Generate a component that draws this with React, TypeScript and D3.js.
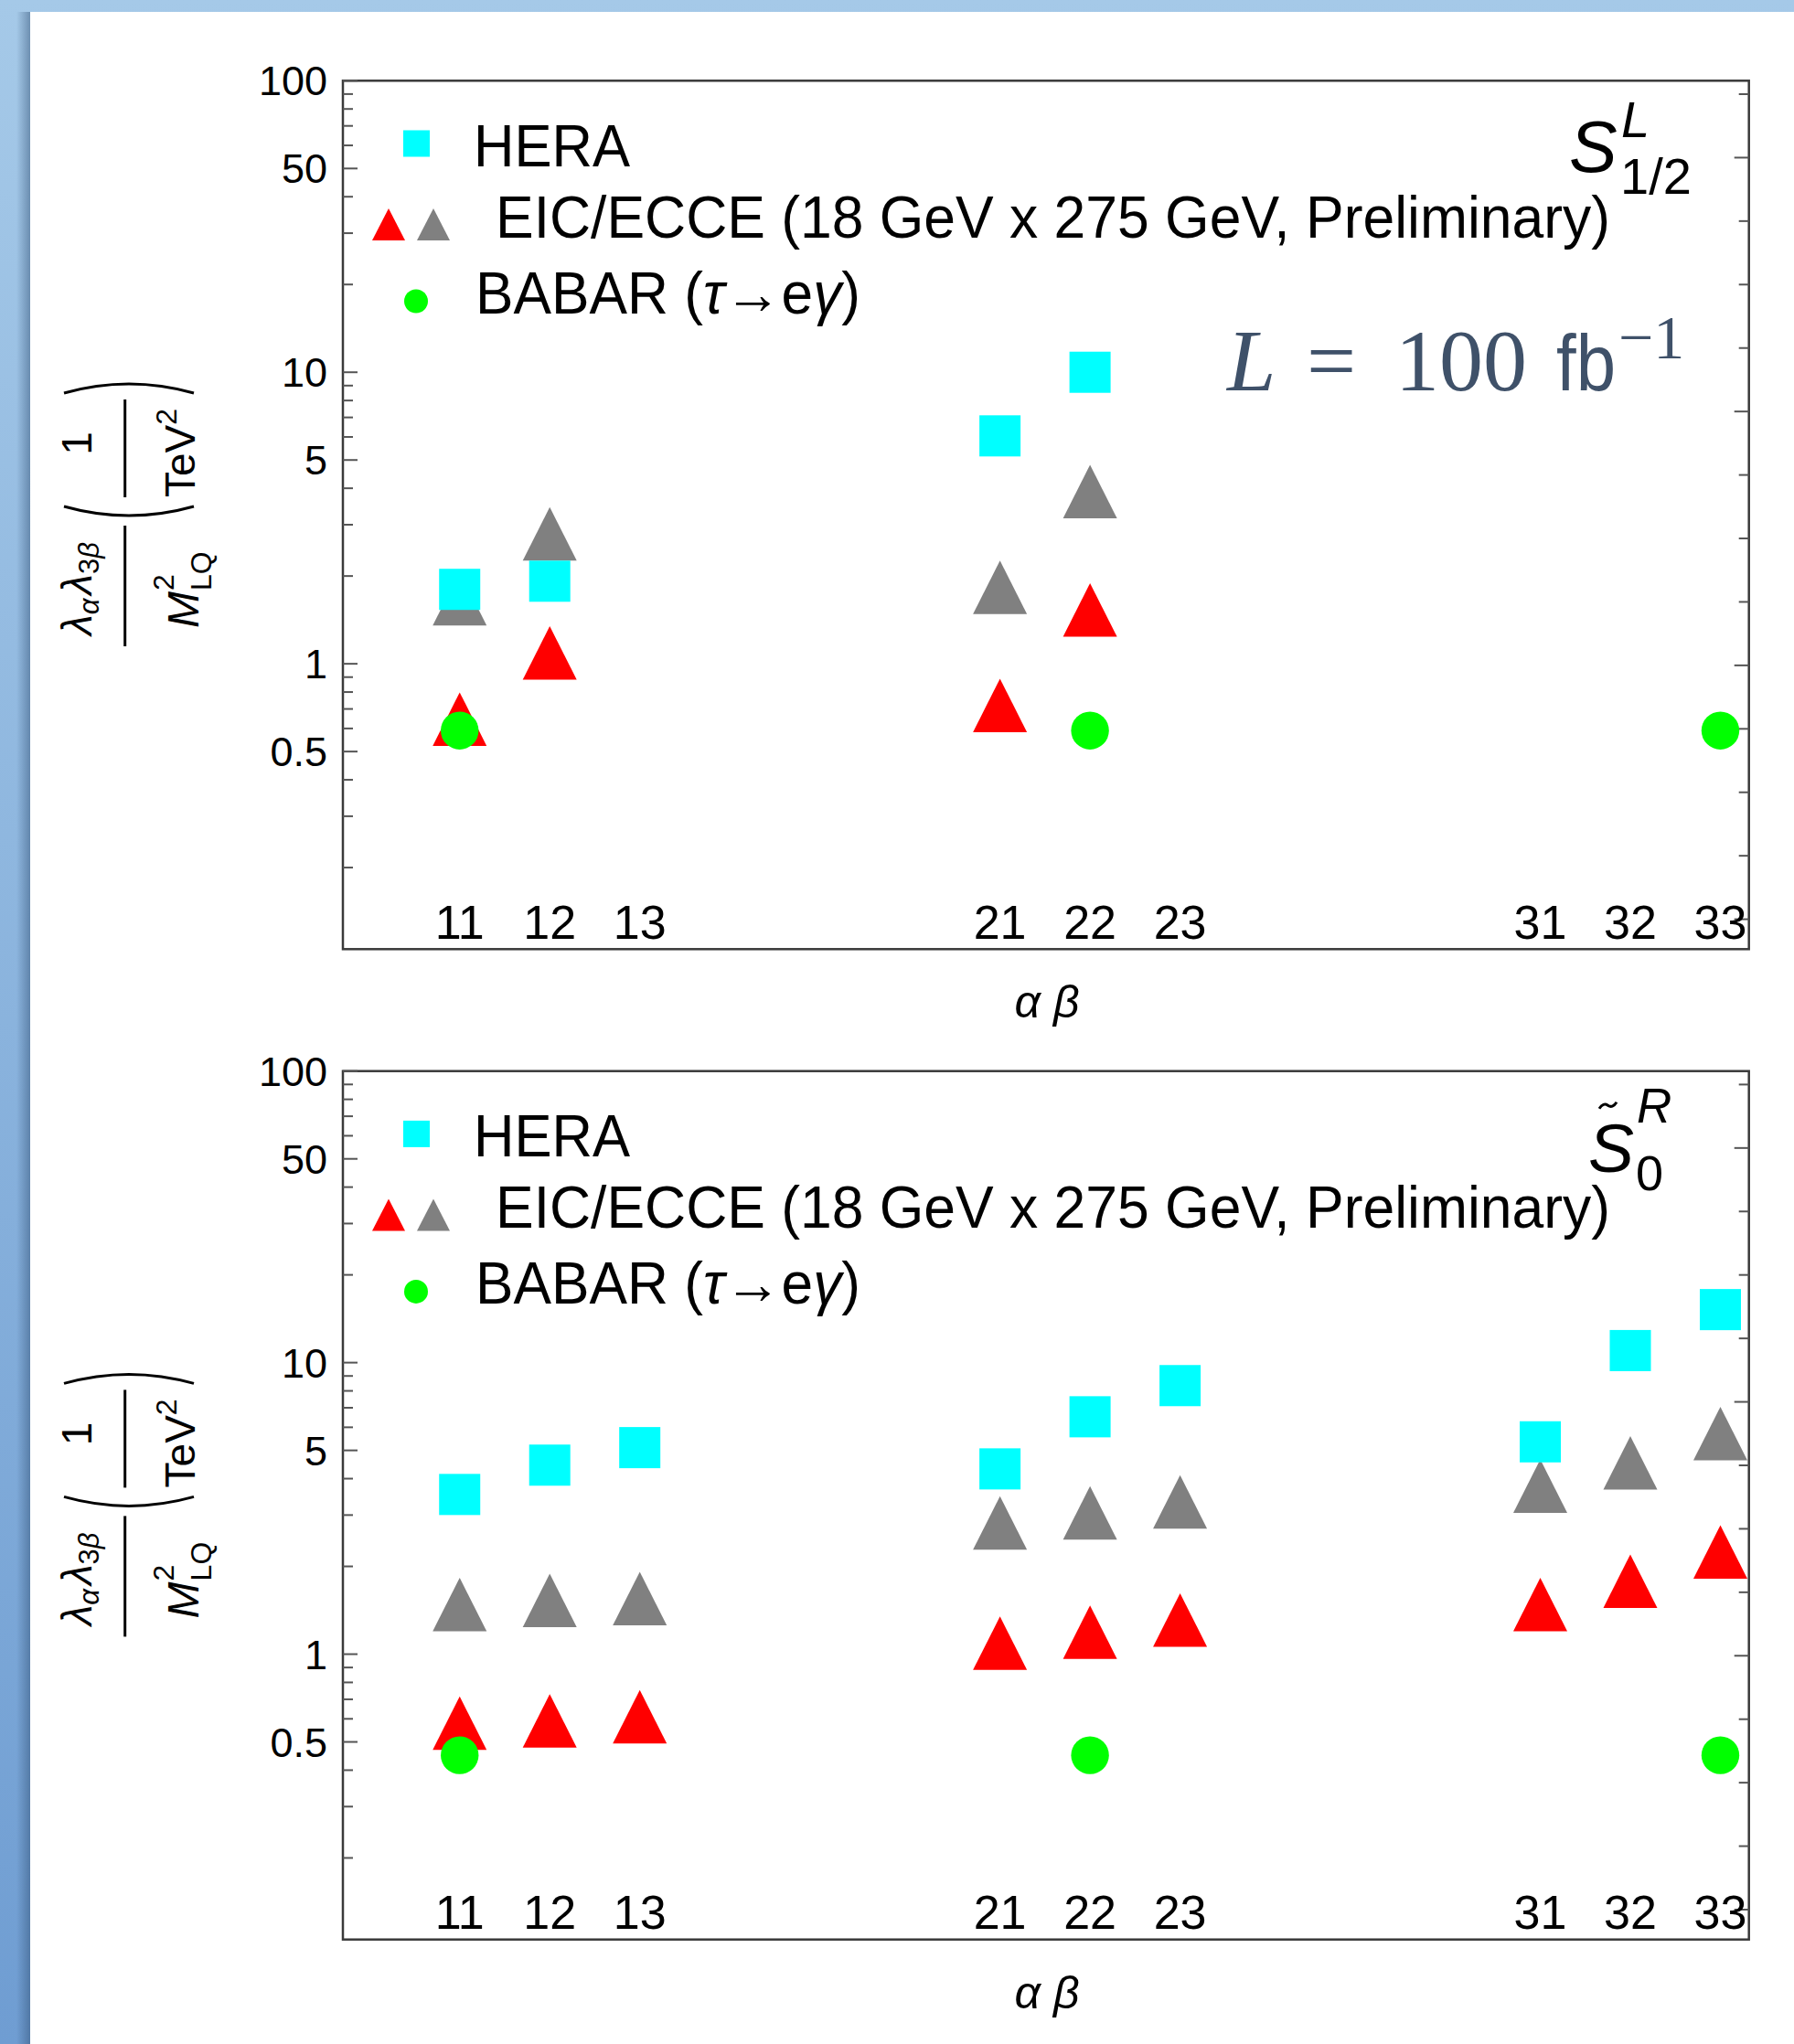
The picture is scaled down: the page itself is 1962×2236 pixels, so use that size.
import React from "react";
import * as d3 from "d3";

// categories (alpha beta)
const categories = ["11", "12", "13", "21", "22", "23", "31", "32", "33"];

// S^L_{1/2} panel
const heraTop = [1.8, 1.92, null, 6.05, 10.0, null, null, null, null];
const eicGrayTop = [1.67, 2.79, null, 1.83, 3.9, null, null, null, null];
const eicRedTop = [0.646, 1.09, null, 0.72, 1.53, null, null, null, null];
const babarTop = [0.59, null, null, null, 0.59, null, null, null, 0.59];

// S~^R_0 panel
const heraBottom = [3.53, 4.45, 5.11, 4.32, 6.52, 8.34, 5.35, 11.0, 15.2];
const eicGrayBottom = [1.48, 1.53, 1.55, 2.82, 3.05, 3.33, 3.77, 4.53, 5.71];
const eicRedBottom = [0.58, 0.59, 0.61, 1.09, 1.19, 1.31, 1.48, 1.78, 2.24];
const babarBottom = [0.45, null, null, null, 0.45, null, null, null, 0.45];

const yLabelTicks = [0.5, 1, 5, 10, 50, 100];
const legendLabels = ["HERA", "EIC/ECCE (18 GeV x 275 GeV, Preliminary)"];

const W = 1962;
const H = 2236;
const frameLeft = 375;
const frameRight = 1912.7;
const frameHeight = 950;
const sans = "'Liberation Sans', Arial, sans-serif";
const serif = "'Liberation Serif', 'Times New Roman', serif";

const CYAN = "#00ffff";
const GRAY = "#808080";
const RED = "#ff0000";
const GREEN = "#00ff00";

// slot along the x axis: 3 groups of 3 with gaps
const slot = (c: string) => (+c[0] - 1) * 6 + +c[1];

const x = d3.scaleLinear().domain([-0.297, 15.317]).range([frameLeft, frameRight]);

const tri = (w: number, h: number) => `M0,${-h / 2}L${w / 2},${h / 2}L${-w / 2},${h / 2}Z`;

type PanelProps = {
  top: number;
  hera: (number | null)[];
  gray: (number | null)[];
  red: (number | null)[];
  babar: (number | null)[];
  which: "top" | "bottom";
};

const YLabel = ({ cy }: { cy: number }) => (
  <g transform={`translate(0,${cy}) rotate(-90)`} fontFamily={sans} fill="#000">
    <text x={76} y={100} fontSize={46} textAnchor="middle">
      <tspan fontStyle="italic">λ</tspan>
      <tspan fontSize={31} fontStyle="italic" dy={8}>α</tspan>
      <tspan fontStyle="italic" dy={-8} dx={4}>λ</tspan>
      <tspan fontSize={31} dy={8}>3</tspan>
      <tspan fontSize={31} fontStyle="italic">β</tspan>
    </text>
    <line x1={13} x2={145} y1={136.7} y2={136.7} stroke="#000" strokeWidth={3} />
    <text x={33} y={217} fontSize={48} fontStyle="italic">M</text>
    <text x={74} y={190} fontSize={32}>2</text>
    <text x={74} y={231} fontSize={32}>LQ</text>
    <path d="M166,70Q146,141 166,212" fill="none" stroke="#000" strokeWidth={3} />
    <text x={235} y={100} fontSize={46} textAnchor="middle">1</text>
    <line x1={176} x2={283} y1={136.7} y2={136.7} stroke="#000" strokeWidth={3} />
    <text x={176} y={213} fontSize={46}>
      TeV<tspan fontSize={32} dy={-20}>2</tspan>
    </text>
    <path d="M290,70Q310,141 290,212" fill="none" stroke="#000" strokeWidth={3} />
  </g>
);

const Panel = ({ top, hera, gray, red, babar, which }: PanelProps) => {
  const bottom = top + frameHeight;
  const y = d3.scaleLog().domain([0.105, 100]).range([bottom, top]);
  const minor = y.ticks().filter((t) => t >= 0.105 && t <= 100);
  const rightTicks = d3.range(0, 14).map((k) => top + 14.7 + k * 69.43);
  const pts = (arr: (number | null)[]) =>
    categories
      .map((c, i) => ({ c, v: arr[i] }))
      .filter((d) => d.v != null) as { c: string; v: number }[];

  return (
    <g>
      {/* frame */}
      <rect
        x={frameLeft}
        y={top}
        width={frameRight - frameLeft}
        height={frameHeight}
        fill="none"
        stroke="#3a3a3a"
        strokeWidth={2.5}
      />
      {/* left log ticks */}
      {minor.map((t) => {
        const major = yLabelTicks.includes(t);
        return (
          <line
            key={t}
            x1={frameLeft}
            x2={frameLeft + (major ? 16 : 11)}
            y1={y(t)}
            y2={y(t)}
            stroke="#555"
            strokeWidth={2}
          />
        );
      })}
      {yLabelTicks.map((t) => (
        <text key={t} x={358} y={y(t) + 16} fontSize={45} textAnchor="end" fontFamily={sans}>
          {t}
        </text>
      ))}
      {/* right ticks */}
      {rightTicks.map((ty, k) => (
        <line
          key={k}
          x1={frameRight}
          x2={frameRight - (k % 4 === 1 ? 16 : 11)}
          y1={ty}
          y2={ty}
          stroke="#555"
          strokeWidth={2}
        />
      ))}
      {/* x labels */}
      {categories.map((c) => (
        <text key={c} x={x(slot(c))} y={bottom - 11.3} fontSize={52} textAnchor="middle" fontFamily={sans}>
          {c}
        </text>
      ))}
      <text x={1145} y={bottom + 75} fontSize={50} textAnchor="middle" fontFamily={sans} fontStyle="italic">
        α β
      </text>

      {/* markers */}
      {pts(gray).map((d) => (
        <path key={"g" + d.c} d={tri(59, 58.5)} transform={`translate(${x(slot(d.c))},${y(d.v)})`} fill={GRAY} />
      ))}
      {pts(red).map((d) => (
        <path key={"r" + d.c} d={tri(59, 58.5)} transform={`translate(${x(slot(d.c))},${y(d.v)})`} fill={RED} />
      ))}
      {pts(hera).map((d) => (
        <rect key={"h" + d.c} x={x(slot(d.c)) - 22.5} y={y(d.v) - 22.5} width={45} height={45} fill={CYAN} />
      ))}
      {pts(babar).map((d) => (
        <circle key={"b" + d.c} cx={x(slot(d.c))} cy={y(d.v)} r={20.7} fill={GREEN} />
      ))}

      {/* legend */}
      <g fontFamily={sans} fontSize={64}>
        <rect x={441} y={top + 54.2} width={29} height={29} fill={CYAN} />
        <text x={518} y={top + 93.7} textLength={171} lengthAdjust="spacingAndGlyphs">
          {legendLabels[0]}
        </text>
        <path d={tri(36, 35)} transform={`translate(425,${top + 157.2})`} fill={RED} />
        <path d={tri(36, 35)} transform={`translate(474,${top + 157.2})`} fill={GRAY} />
        <text x={542} y={top + 171.7} textLength={1219} lengthAdjust="spacingAndGlyphs">
          {legendLabels[1]}
        </text>
        <circle cx={455} cy={top + 241.2} r={13} fill={GREEN} />
        <text x={520} y={top + 254.7} textLength={421} lengthAdjust="spacingAndGlyphs">
          BABAR (<tspan fontStyle="italic">τ</tspan>→e<tspan fontStyle="italic">γ</tspan>)
        </text>
      </g>

      {/* model label */}
      {which === "top" ? (
        <g fontFamily={sans}>
          <text x={1716} y={top + 100} fontSize={79} fontStyle="italic">S</text>
          <text x={1773} y={top + 61.7} fontSize={56} fontStyle="italic">L</text>
          <text x={1772} y={top + 123.4} fontSize={56}>1/2</text>
        </g>
      ) : (
        <g fontFamily={sans}>
          <text x={1737} y={top + 110.3} fontSize={75} fontStyle="italic">S</text>
          <path
            d={`M1749,${top + 41}q4.5,-7 9.5,-3.5t9.5,-3.5`}
            fill="none"
            stroke="#000"
            strokeWidth={3}
          />
          <text x={1790} y={top + 56.3} fontSize={53} fontStyle="italic">R</text>
          <text x={1789} y={top + 130.3} fontSize={54}>0</text>
        </g>
      )}

      {which === "top" && (
        <g fill="#3f5169">
          <text x={1342} y={top + 338.7} fontSize={96} fontFamily={serif} fontStyle="italic">L</text>
          <text x={1429} y={top + 338.7} fontSize={96} fontFamily={serif}>=</text>
          <text x={1526} y={top + 338.7} fontSize={96} fontFamily={serif}>100</text>
          <text x={1702} y={top + 338.7} fontSize={88} fontFamily={sans} textLength={65} lengthAdjust="spacingAndGlyphs">
            fb
          </text>
          <text x={1770} y={top + 303.7} fontSize={68} fontFamily={serif}>−1</text>
        </g>
      )}

      <YLabel cy={top + 631.7} />
    </g>
  );
};

export default function App() {
  return (
    <svg
      width={W}
      height={H}
      viewBox={`0 0 ${W} ${H}`}
      style={{ position: "absolute", left: 0, top: 0, background: "#fff" }}
    >
      <defs>
        <linearGradient id="bg" x1="0" y1="0" x2="0" y2="1">
          <stop offset="0" stopColor="#a5c9e8" />
          <stop offset="1" stopColor="#6f9dd2" />
        </linearGradient>
        <linearGradient id="shade" x1="0" y1="0" x2="1" y2="0">
          <stop offset="0" stopColor="#2b4a6e" stopOpacity={0} />
          <stop offset="1" stopColor="#2b4a6e" stopOpacity={0.45} />
        </linearGradient>
      </defs>
      <rect x={0} y={0} width={W} height={H} fill="url(#bg)" />
      <rect x={18} y={13} width={15} height={H - 13} fill="url(#shade)" />
      <rect x={33} y={13} width={W - 33} height={H - 13} fill="#fff" />

      <Panel top={88.3} hera={heraTop} gray={eicGrayTop} red={eicRedTop} babar={babarTop} which="top" />
      <Panel
        top={1171.7}
        hera={heraBottom}
        gray={eicGrayBottom}
        red={eicRedBottom}
        babar={babarBottom}
        which="bottom"
      />
    </svg>
  );
}
